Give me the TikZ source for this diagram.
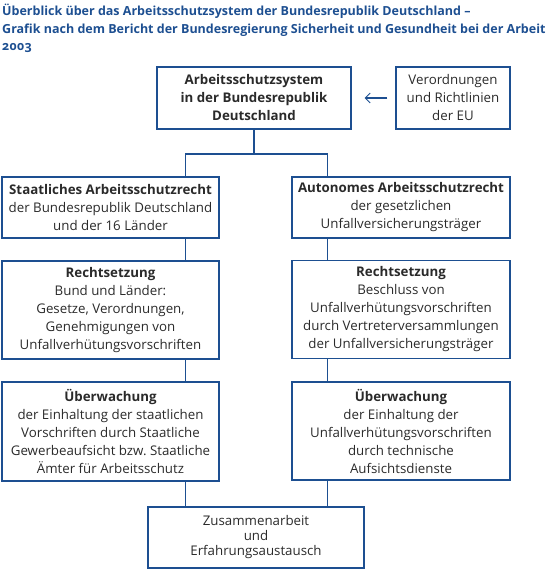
\documentclass[tikz,border=0pt]{standalone}
\usepackage{fontspec}
\setmainfont{Open Sans}
\usetikzlibrary{calc,arrows.meta}
\definecolor{schutzblau}{HTML}{1D4F91}
\definecolor{schrift}{HTML}{2A2A2A}
\tikzset{
  kasten/.style={draw=schutzblau, line width=1.1pt, align=center, text=schrift,
    inner sep=0pt, font=\fontsize{13.3}{18}\selectfont},
  linie/.style={draw=schutzblau, line width=1.1pt},
}
\begin{document}
\begin{tikzpicture}[x=1pt, y=-1pt]
			%%%%% START %%%%%
			\useasboundingbox (0,0) rectangle (548,571);
			
			\node[anchor=north west, inner sep=0pt, align=left, text=schutzblau,
			  font=\fontsize{12.5}{17.5}\selectfont\bfseries] (titel) at (2,4)
			  {Überblick über das Arbeitsschutzsystem der Bundesrepublik Deutschland --\\
			   Grafik nach dem Bericht der Bundesregierung Sicherheit und Gesundheit bei der Arbeit\\
			   {\addfontfeatures{Numbers=OldStyle}2003}};
			
			\node[kasten, minimum width=194pt, minimum height=62pt] (system) at (254,98)
			  {\bfseries Arbeitsschutzsystem\\ \bfseries in der Bundesrepublik\\ \bfseries Deutschland};
			\node[kasten, minimum width=114pt, minimum height=62pt] (eu) at (453,98)
			  {Verordnungen\\ und Richtlinien\\ der EU};
			
			\node[kasten, minimum width=217pt, minimum height=61pt] (staat) at (110.5,207.5)
			  {\bfseries Staatliches Arbeitsschutzrecht\\ der Bundesrepublik Deutschland\\ und der 16 Länder};
			\node[kasten, minimum width=218pt, minimum height=61pt] (autonom) at (401,207.5)
			  {\bfseries Autonomes Arbeitsschutzrecht\\ der gesetzlichen\\ Unfallversicherungsträger};
			
			\node[kasten, minimum width=217pt, minimum height=98pt] (rechtL) at (110.5,310)
			  {\bfseries Rechtsetzung\\ Bund und Länder:\\ Gesetze, Verordnungen,\\ Genehmigungen von\\ Unfallverhütungsvorschriften};
			\node[kasten, minimum width=218pt, minimum height=98pt] (rechtR) at (401,309.5)
			  {\bfseries Rechtsetzung\\ Beschluss von\\ Unfallverhütungsvorschriften\\ durch Vertreterversammlungen\\ der Unfallversicherungsträger};
			
			\node[kasten, minimum width=217pt, minimum height=99pt] (ueberL) at (110.5,431.5)
			  {\bfseries Überwachung\\ der Einhaltung der staatlichen\\ Vorschriften durch Staatliche\\ Gewerbeaufsicht bzw.\ Staatliche\\ Ämter für Arbeitsschutz};
			\node[kasten, minimum width=218pt, minimum height=98pt] (ueberR) at (401,431)
			  {\bfseries Überwachung\\ der Einhaltung der\\ Unfallverhütungsvorschriften\\ durch technische\\ Aufsichtsdienste};
			
			\node[kasten, minimum width=216pt, minimum height=61pt, font=\fontsize{13.3}{15}\selectfont] (zusammen) at (256,537.5)
			  {Zusammenarbeit\\ und\\ Erfahrungsaustausch};
			
			% Verbindungen
			\coordinate (lx) at (185.5,0);
			\coordinate (rx) at (327.5,0);
			\coordinate (gabel) at (system.south |- 0,154);
			\coordinate (pfeilanfang) at ($(eu.west)+(-8,0)$);
			\draw[linie, -{Straight Barb[length=5pt, width=10pt, line width=0.9pt]}] (pfeilanfang) -- ($(system.east)+(13,0)$);
			\draw[linie] (system.south) -- (gabel);
			\draw[linie] (staat.north -| lx) |- (gabel) -| (autonom.north -| rx);
			\draw[linie] (staat.south -| lx) -- (rechtL.north -| lx);
			\draw[linie] (rechtL.south -| lx) -- (ueberL.north -| lx);
			\draw[linie] (ueberL.south -| lx) -- (zusammen.north -| lx);
			\draw[linie] (autonom.south -| rx) -- (rechtR.north -| rx);
			\draw[linie] (rechtR.south -| rx) -- (ueberR.north -| rx);
			\draw[linie] (ueberR.south -| rx) -- (zusammen.north -| rx);
			%%%%% END %%%%%
\end{tikzpicture}
\end{document}
